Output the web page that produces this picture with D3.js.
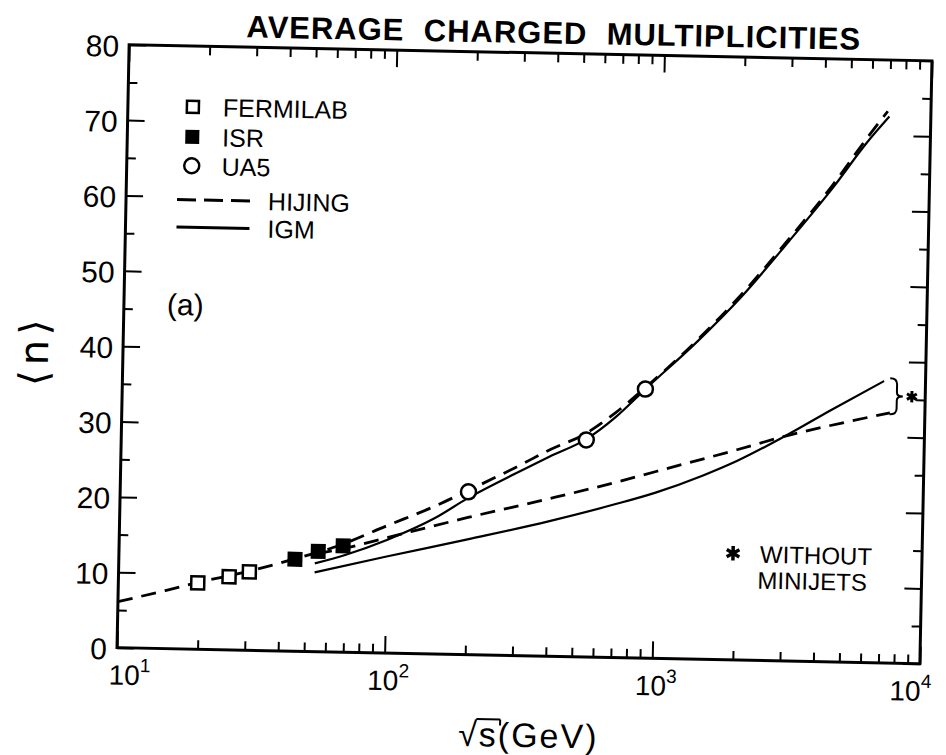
<!DOCTYPE html>
<html>
<head>
<meta charset="utf-8" />
<title>Average charged multiplicities</title>
<script src="https://cdnjs.cloudflare.com/ajax/libs/d3/7.8.5/d3.min.js"></script>
<style>
  body { margin: 0; background: #fff; }
  svg { display: block; }
  text { font-family: "Liberation Sans", Arial, sans-serif; fill: #000; }
</style>
</head>
<body>
<svg id="chart" width="946" height="755"></svg>
<script>
// data: sqrt(s) in GeV, <n>
const fermilabS = [19.8, 25.9, 30.8]
const fermilabN = [8.8, 9.7, 10.4]
const isrS = [45.5, 55.5, 68.7]
const isrN = [12.2, 13.3, 14.1]
const ua5S = [200, 546, 900]
const ua5N = [21.6, 28.8, 35.7]

// HIJING with minijets (dashed, upper)
const hijingS = [10, 15, 20, 30, 45, 66, 100, 150, 200, 300, 400, 546, 700, 900, 1400, 2000, 3000, 4400, 5800, 6900]
const hijingN = [6.1, 7.7, 8.9, 10.4, 12.2, 14.1, 16.9, 19.6, 21.8, 25.0, 27.4, 29.7, 32.5, 35.9, 42.4, 48.3, 55.9, 63.5, 69.6, 73.2]
// IGM with minijets (solid, upper)
const igmS = [54, 70, 100, 150, 200, 300, 400, 546, 700, 900, 1400, 2000, 3000, 4400, 5800, 7000]
const igmN = [11.7, 12.9, 15.0, 18.0, 20.8, 24.2, 26.5, 28.9, 31.9, 35.7, 42.2, 48.0, 55.6, 63.1, 69.0, 72.5]
// without minijets
const hijingNoJetS = [55, 70, 100, 200, 400, 700, 1000, 2000, 3000, 5000, 7400]
const hijingNoJetN = [13.0, 13.8, 15.3, 18.2, 20.9, 23.2, 24.8, 27.9, 29.8, 31.8, 33.2]
const igmNoJetS = [54, 100, 200, 400, 700, 1000, 1500, 2000, 3000, 4500, 7000]
const igmNoJetN = [10.5, 12.8, 15.3, 17.9, 20.3, 22.0, 24.4, 26.4, 29.8, 33.5, 37.4]

const yTicks = [0, 10, 20, 30, 40, 50, 60, 70, 80]
const yMinorTicks = [5, 15, 25, 35, 45, 55, 65, 75]
const xDecades = [10, 100, 1000, 10000]
const xExponents = ['1', '2', '3', '4']
const legendLabels = ['FERMILAB', 'ISR', 'UA5', 'HIJING', 'IGM']

const L = 123, R = 926, T = 52.75, B = 655.75
const svg = d3.select('#chart')
// the scanned figure is turned slightly clockwise
const g = svg.append('g').attr('transform', 'rotate(1.15,524.5,354.25)')

const x = d3.scaleLog().domain([10, 10000]).range([L, R])
const y = d3.scaleLinear().domain([0, 80]).range([B, T])

const xMinor = x.ticks().filter(v => xDecades.indexOf(v) < 0)

function axis(fn, tr, values, size) {
  g.append('g').attr('transform', tr)
    .call(fn.tickValues(values).tickSize(size).tickSizeOuter(0).tickFormat(''))
    .call(a => a.select('.domain').remove())
    .selectAll('line').attr('stroke', '#000').attr('stroke-width', 2)
}
axis(d3.axisBottom(x), `translate(0,${B})`, xDecades, -17)
axis(d3.axisBottom(x), `translate(0,${B})`, xMinor, -9)
axis(d3.axisTop(x), `translate(0,${T})`, xDecades, -17)
axis(d3.axisTop(x), `translate(0,${T})`, xMinor, -9)
axis(d3.axisLeft(y), `translate(${L},0)`, yTicks, -17)
axis(d3.axisLeft(y), `translate(${L},0)`, yMinorTicks, -9)
axis(d3.axisRight(y), `translate(${R},0)`, yTicks, -17)
axis(d3.axisRight(y), `translate(${R},0)`, yMinorTicks, -9)

g.append('rect').attr('x', L).attr('y', T).attr('width', R - L).attr('height', B - T)
  .attr('fill', 'none').attr('stroke', '#000').attr('stroke-width', 3)

// tick labels
g.selectAll('text.ylab').data(yTicks).enter().append('text')
  .attr('class', 'ylab')
  .attr('x', L - 10).attr('y', d => y(d) + 12)
  .attr('text-anchor', 'end').style('font-size', '30px')
  .text(d => d)

xDecades.forEach((d, i) => {
  const shift = i === 0 ? 13 : (i === xDecades.length - 1 ? -9 : 4)
  const t = g.append('text').attr('x', x(d) + shift).attr('y', B + 37)
    .attr('text-anchor', 'middle').style('font-size', '28px')
  t.append('tspan').text('10')
  t.append('tspan').attr('dy', -13).style('font-size', '19px').text(xExponents[i])
})

// axis titles
g.append('text').attr('transform', 'translate(48,360) rotate(-90)')
  .attr('text-anchor', 'middle')
  .style('font-family', '"DejaVu Sans", sans-serif').style('font-size', '40px')
  .style('letter-spacing', '5px')
  .text('⟨n⟩')

const xt = g.append('text').attr('x', 536).attr('y', 747).attr('text-anchor', 'middle')
  .style('font-size', '34px').style('letter-spacing', '2px')
xt.append('tspan').attr('id', 'sq').text('√s')
xt.append('tspan').text('(GeV)')
const sqBox = document.getElementById('sq').getBBox()
g.append('line').attr('x1', sqBox.x + sqBox.width * 0.45).attr('x2', sqBox.x + sqBox.width + 2)
  .attr('y1', sqBox.y + 4).attr('y2', sqBox.y + 4)
  .attr('stroke', '#000').attr('stroke-width', 2)
g.append('line').attr('x1', sqBox.x + sqBox.width + 2).attr('x2', sqBox.x + sqBox.width + 2)
  .attr('y1', sqBox.y + 4).attr('y2', sqBox.y + 10)
  .attr('stroke', '#000').attr('stroke-width', 2)

g.append('text').attr('x', 240).attr('y', 43)
  .style('font-size', '31px').style('font-weight', 'bold').style('letter-spacing', '1px')
  .attr('xml:space', 'preserve')
  .text('AVERAGE  CHARGED  MULTIPLICITIES')

// curves
const line = d3.line().x(d => x(d[0])).y(d => y(d[1])).curve(d3.curveMonotoneX)
function curve(s, n, dashed, w) {
  g.append('path').datum(d3.zip(s, n)).attr('d', line)
    .attr('fill', 'none').attr('stroke', '#000').attr('stroke-width', w)
    .attr('stroke-dasharray', dashed ? '15,9' : null)
}
curve(igmS, igmN, false, 2.2)
curve(igmNoJetS, igmNoJetN, false, 2.2)
curve(hijingS, hijingN, true, 2.8)
curve(hijingNoJetS, hijingNoJetN, true, 2.8)

const star = d3.symbol().type(d3.symbolAsterisk || d3.symbolCross).size(90)

// bracket and star marking the no-minijet curves
const xb = x(7700)
const yTop = y(37.8), yBot = y(33.0), yMid = (yTop + yBot) / 2
g.append('path')
  .attr('d', `M${xb - 5},${yTop} Q${xb + 2},${yTop} ${xb + 2},${yTop + 6} L${xb + 2},${yMid - 4} Q${xb + 2},${yMid} ${xb + 8},${yMid} Q${xb + 2},${yMid} ${xb + 2},${yMid + 4} L${xb + 2},${yBot - 6} Q${xb + 2},${yBot} ${xb - 5},${yBot}`)
  .attr('fill', 'none').attr('stroke', '#000').attr('stroke-width', 2)
g.append('path').attr('d', star).attr('transform', `translate(${xb + 17},${yMid})`)
  .attr('fill', 'none').attr('stroke', '#000').attr('stroke-width', 3)

// data points
g.selectAll('rect.fermi').data(d3.zip(fermilabS, fermilabN)).enter().append('rect')
  .attr('x', d => x(d[0]) - 6.5).attr('y', d => y(d[1]) - 6.5)
  .attr('width', 13).attr('height', 13)
  .attr('fill', '#fff').attr('stroke', '#000').attr('stroke-width', 2.5)
g.selectAll('rect.isr').data(d3.zip(isrS, isrN)).enter().append('rect')
  .attr('x', d => x(d[0]) - 7.5).attr('y', d => y(d[1]) - 7.5)
  .attr('width', 15).attr('height', 15).attr('fill', '#000')
g.selectAll('circle.ua5').data(d3.zip(ua5S, ua5N)).enter().append('circle')
  .attr('cx', d => x(d[0])).attr('cy', d => y(d[1])).attr('r', 7.5)
  .attr('fill', '#fff').attr('stroke', '#000').attr('stroke-width', 2.5)

// legend
const lg = g.append('g').style('font-size', '25px')
lg.append('rect').attr('x', 182).attr('y', 107.5).attr('width', 12).attr('height', 12)
  .attr('fill', '#fff').attr('stroke', '#000').attr('stroke-width', 2.5)
lg.append('rect').attr('x', 181).attr('y', 136.5).attr('width', 14).attr('height', 14).attr('fill', '#000')
lg.append('circle').attr('cx', 188).attr('cy', 172.5).attr('r', 7.5)
  .attr('fill', '#fff').attr('stroke', '#000').attr('stroke-width', 2.5)
lg.append('line').attr('x1', 174).attr('x2', 247).attr('y1', 206.5).attr('y2', 206.5)
  .attr('stroke', '#000').attr('stroke-width', 3).attr('stroke-dasharray', '19,8')
lg.append('line').attr('x1', 174).attr('x2', 247).attr('y1', 234).attr('y2', 234)
  .attr('stroke', '#000').attr('stroke-width', 3)
const legendY = [122.5, 152.5, 181.5, 215.5, 243]
const legendX = [218, 218, 218, 265, 265]
legendLabels.forEach((t, i) => {
  lg.append('text').attr('x', legendX[i]).attr('y', legendY[i]).text(t)
})

g.append('text').attr('x', 166).attr('y', 322).style('font-size', '30px').text('(a)')

const note = g.append('g').style('font-size', '24px')
note.append('path').attr('d', d3.symbol().type(d3.symbolAsterisk || d3.symbolCross).size(150))
  .attr('transform', 'translate(737,549)')
  .attr('fill', 'none').attr('stroke', '#000').attr('stroke-width', 3.5)
note.append('text').attr('x', 764).attr('y', 558).text('WITHOUT')
note.append('text').attr('x', 762).attr('y', 584).text('MINIJETS')
</script>
</body>
</html>
